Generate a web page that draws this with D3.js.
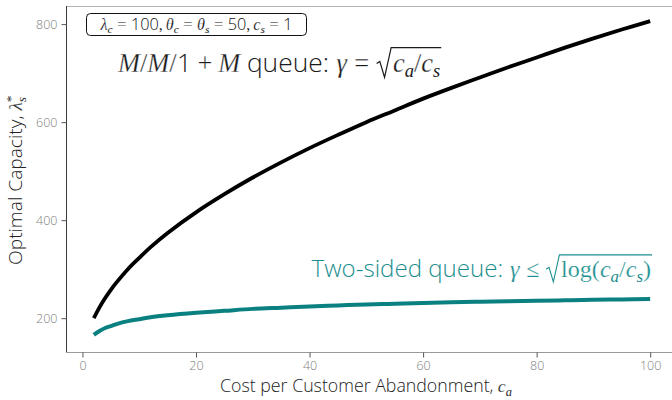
<!DOCTYPE html>
<html>
<head>
<meta charset="utf-8">
<script src="https://cdn.jsdelivr.net/npm/d3@7"></script>
<style>
  body { margin: 0; background: #fff; }
  svg { display: block; }
</style>
</head>
<body>
<svg id="chart" width="672" height="400"></svg>
<script>
// ---------- data ----------
const costAbandon = [2, 3, 4, 5, 6, 8, 10, 12, 15, 20, 25, 30, 35, 40, 45, 50, 55, 60, 65, 70, 75, 80, 85, 90, 95, 100];
const capacityMM1M = [200, 222, 241, 258, 273, 300, 323, 345, 374, 416, 453, 487, 518, 547, 574, 600, 624, 648, 670, 691, 712, 732, 752, 771, 789, 806];
const capacityTwoSided = [166, 174, 180, 184, 188, 194, 198, 202, 206, 211, 215, 219, 221.5, 224, 226, 228, 229.5, 231, 232.3, 233.5, 234.6, 235.6, 236.5, 237.4, 238.2, 239];
const xTicks = [0, 20, 40, 60, 80, 100];
const yTicks = [200, 400, 600, 800];

const width = 672, height = 400;
const svg = d3.select('#chart');

const SANS = '"Open Sans", "Noto Sans", sans-serif';
const fam = {
  sans: SANS,
  it: '"Liberation Serif", serif',
  rm: '"Liberation Serif", serif'
};

//------scales (ggplot style 5% expansion)
const x = d3.scaleLinear().domain([-2.9, 104.9]).range([66, 678]);
const y = d3.scaleLinear().domain([131, 837]).range([352, 6]);

//------panel lines
svg.append('line').attr('x1', 66).attr('x2', width).attr('y1', 6.5).attr('y2', 6.5)
  .attr('stroke', '#b5b5b5').attr('stroke-width', 1);

const yAxis = svg.append('g')
  .attr('transform', 'translate(66.5,0)')
  .call(d3.axisLeft(y).tickValues(yTicks).tickSize(5).tickPadding(4));
yAxis.select('.domain').attr('stroke', '#3a3a3a').attr('d', 'M0,6V352.5');
yAxis.selectAll('.tick line').attr('stroke', '#555');
yAxis.selectAll('.tick text').attr('fill', '#808080').attr('font-size', 12.5)
  .attr('font-family', SANS).attr('font-weight', 300);

const xAxis = svg.append('g')
  .attr('transform', 'translate(0,352.5)')
  .call(d3.axisBottom(x).tickValues(xTicks).tickSize(5).tickPadding(4));
xAxis.select('.domain').attr('stroke', '#9a9a9a').attr('d', 'M66,0H' + width);
xAxis.selectAll('.tick line').attr('stroke', '#555');
xAxis.selectAll('.tick text').attr('fill', '#808080').attr('font-size', 12.5)
  .attr('font-family', SANS).attr('font-weight', 300);

//------curves
const line = d3.line().curve(d3.curveCatmullRom.alpha(0.5))
  .x((d, i) => x(costAbandon[i])).y(d => y(d));

svg.append('path').datum(capacityMM1M)
  .attr('d', line).attr('fill', 'none').attr('stroke', '#000')
  .attr('stroke-width', 3.8).attr('stroke-linecap', 'butt');

svg.append('path').datum(capacityTwoSided)
  .attr('d', line).attr('fill', 'none').attr('stroke', '#0a8080')
  .attr('stroke-width', 4).attr('stroke-linecap', 'butt');

//------small math typesetter: parts laid out left to right
function layout(parent, parts, size, color) {
  const g = parent.append('g');
  let cx = 0, sqrtStart = null;
  parts.forEach(p => {
    if (p.sqrt === 'open') { sqrtStart = cx; cx += size * 0.62; return; }
    if (p.sqrt === 'close') {
      const s = size, x0 = sqrtStart;
      g.append('path')
        .attr('d', `M${x0},${-0.32 * s} L${x0 + 0.12 * s},${-0.4 * s} L${x0 + 0.3 * s},${0.2 * s} L${x0 + 0.55 * s},${-0.92 * s} L${cx + 1},${-0.92 * s}`)
        .attr('fill', 'none').attr('stroke', color).attr('stroke-width', size * 0.045)
        .attr('stroke-linejoin', 'miter');
      cx += 2;
      return;
    }
    const small = p.sub || p.sup;
    const fs = small ? size * 0.7 : size;
    cx += (p.pl || 0) * size;
    const f = p.f || 'it';
    const t = g.append('text')
      .attr('x', cx)
      .attr('y', p.sub ? size * 0.2 : p.sup ? -size * 0.38 : 0)
      .attr('font-family', fam[f])
      .attr('font-style', f === 'it' ? 'italic' : 'normal')
      .attr('font-weight', f === 'sans' ? 300 : 400)
      .attr('font-size', fs)
      .attr('fill', color)
      .text(p.t);
    // thin the big serif glyphs a touch, closer to the light TeX look
    if (f !== 'sans' && !small && size > 15) t.attr('stroke', '#fff').attr('stroke-width', fs * 0.01);
    if (!p.noadv) cx += t.node().getComputedTextLength();
    cx += (p.pr || 0) * size;
  });
  return { g, width: cx };
}

// lay out once, then resize so the label spans the width seen in the reference
function mathText(parent, parts, size, color, target) {
  let res = layout(parent, parts, size, color);
  if (target) {
    const s2 = size * target / res.width;
    res.g.remove();
    res = layout(parent, parts, s2, color);
  }
  return res;
}

//------parameter box
const boxParts = [
  { t: 'λ' }, { t: 'c', sub: 1 }, { t: '=', f: 'rm', pl: .28, pr: .28 }, { t: '100', f: 'sans' },
  { t: ',', f: 'rm', pr: .17 },
  { t: 'θ' }, { t: 'c', sub: 1 }, { t: '=', f: 'rm', pl: .28, pr: .28 },
  { t: 'θ' }, { t: 's', sub: 1 }, { t: '=', f: 'rm', pl: .28, pr: .28 }, { t: '50', f: 'sans' },
  { t: ',', f: 'rm', pr: .17 },
  { t: 'c' }, { t: 's', sub: 1 }, { t: '=', f: 'rm', pl: .28, pr: .28 }, { t: '1', f: 'sans' }
];
svg.append('rect')
  .attr('x', 86.5).attr('y', 13.5).attr('width', 220).attr('height', 22)
  .attr('rx', 4).attr('fill', '#fff').attr('stroke', '#111').attr('stroke-width', 1);
const box = mathText(svg, boxParts, 13, '#111', 192);
box.g.attr('transform', `translate(${196.5 - box.width / 2},29.5)`);

//------model labels
const mm1Parts = [
  { t: 'M' }, { t: '/', f: 'rm' }, { t: 'M' }, { t: '/', f: 'rm' }, { t: '1', f: 'sans' },
  { t: '+', f: 'rm', pl: .22, pr: .22 }, { t: 'M', pr: .25 },
  { t: 'queue:', f: 'sans', pr: .28 }, { t: 'γ' }, { t: '=', f: 'rm', pl: .28, pr: .28 },
  { sqrt: 'open' }, { t: 'c' }, { t: 'a', sub: 1 }, { t: '/', f: 'rm' }, { t: 'c' }, { t: 's', sub: 1 },
  { sqrt: 'close' }
];
const mm1 = mathText(svg, mm1Parts, 21, '#1a1a1a', 325);
mm1.g.attr('transform', 'translate(118,72)');

const twoParts = [
  { t: 'Two-sided queue:', f: 'sans', pr: .28 }, { t: 'γ' }, { t: '≤', f: 'rm', pl: .28, pr: .28 },
  { sqrt: 'open' }, { t: 'log', f: 'rm' }, { t: '(', f: 'rm' }, { t: 'c' }, { t: 'a', sub: 1 },
  { t: '/', f: 'rm' }, { t: 'c' }, { t: 's', sub: 1 }, { t: ')', f: 'rm' },
  { sqrt: 'close' }
];
const two = mathText(svg, twoParts, 20, '#1a8e8e', 342);
two.g.attr('transform', `translate(${653 - two.width},277)`);

//------axis titles
const xt = mathText(svg, [
  { t: 'Cost per Customer Abandonment,', f: 'sans', pr: .25 }, { t: 'c' }, { t: 'a', sub: 1 }
], 17, '#222', 292);
xt.g.attr('transform', `translate(${366 - xt.width / 2},392)`);

const yt = mathText(svg, [
  { t: 'Optimal Capacity,', f: 'sans', pr: .25 }, { t: 'λ' }, { t: '*', sup: 1, f: 'rm', noadv: 1 }, { t: 's', sub: 1 }
], 17, '#222', 168);
yt.g.attr('transform', `translate(22,${181 + yt.width / 2}) rotate(-90)`);
</script>
</body>
</html>
